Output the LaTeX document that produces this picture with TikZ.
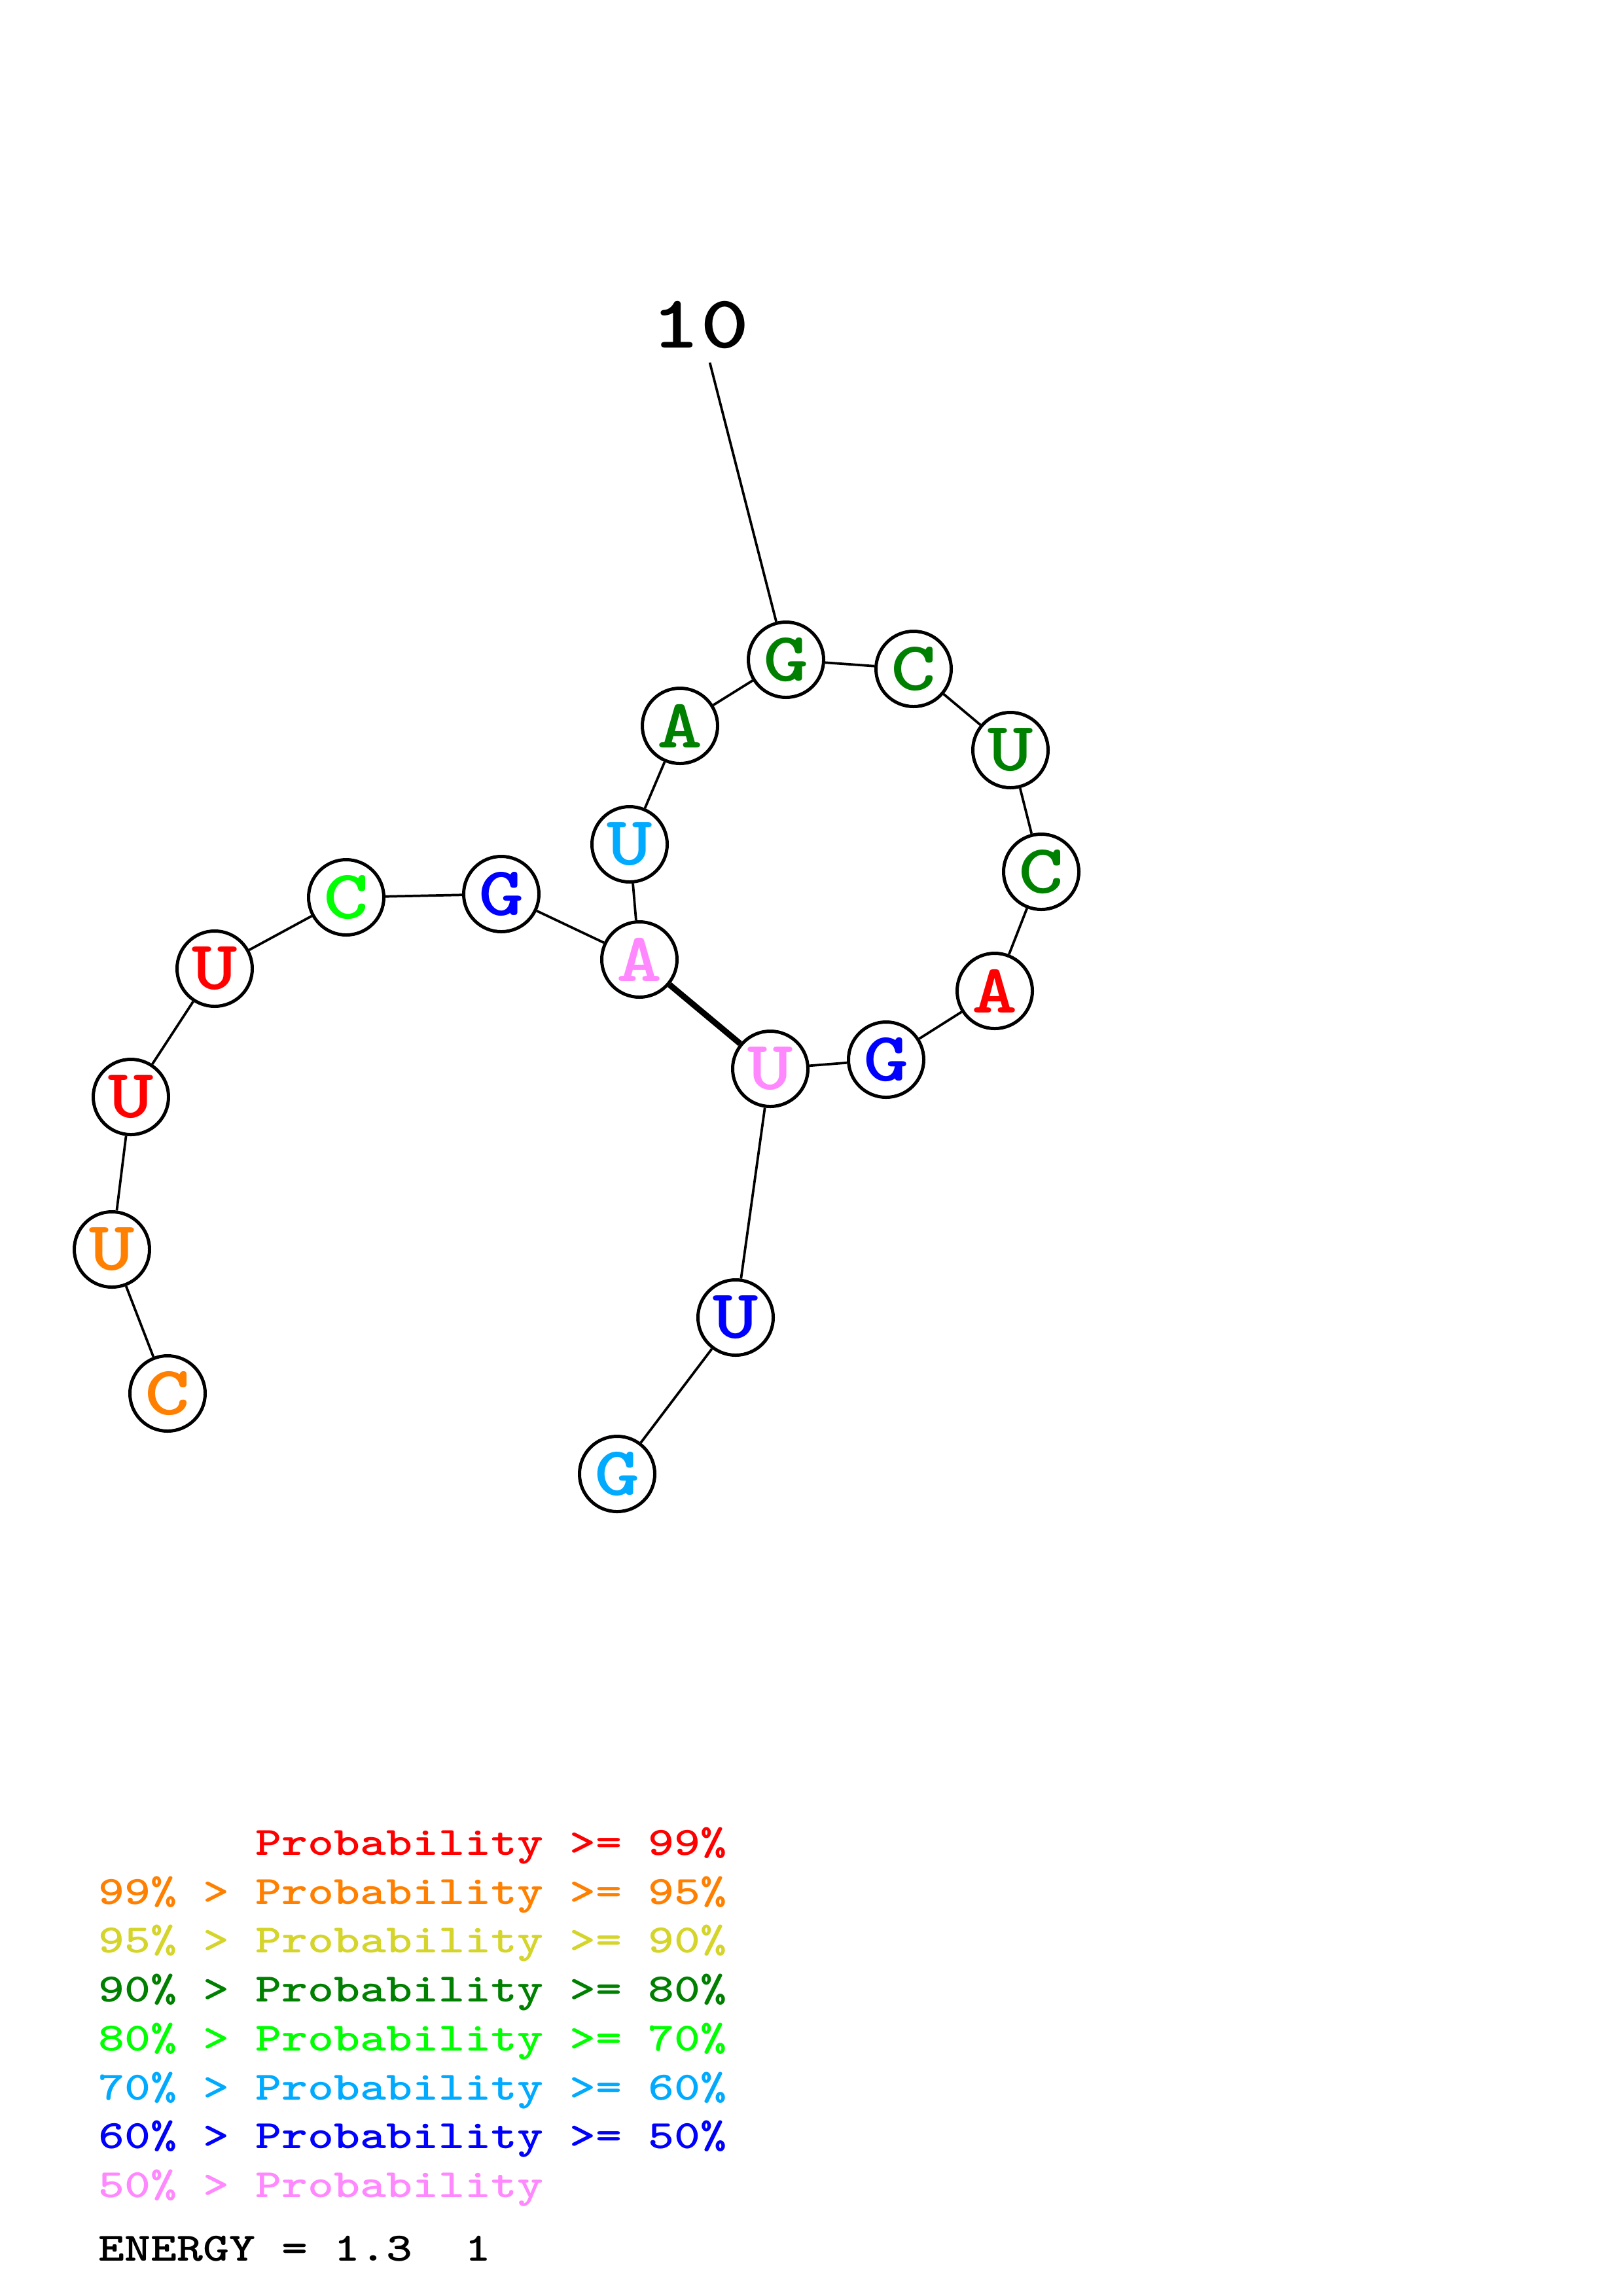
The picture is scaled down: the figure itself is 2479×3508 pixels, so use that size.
\documentclass[tikz,border=0pt]{standalone}
\usepackage{graphicx}
\usetikzlibrary{shapes}
\definecolor{c99}{RGB}{255,0,0}
\definecolor{c95}{RGB}{255,128,0}
\definecolor{c90}{RGB}{212,212,42}
\definecolor{c80}{RGB}{0,128,0}
\definecolor{c70}{RGB}{0,255,0}
\definecolor{c60}{RGB}{0,170,255}
\definecolor{c50}{RGB}{0,0,255}
\definecolor{clow}{RGB}{255,136,255}
\newcommand{\wide}[1]{\scalebox{1.24}[1]{#1}}
\tikzset{
  nuc/.style={circle, draw=black, line width=1.2pt, fill=white, inner sep=0pt,
    minimum size=0.974cm, font=\fontsize{25.6}{30}\selectfont\ttfamily\bfseries},
  bb/.style={line width=0.9pt},
  pair/.style={line width=2.2pt},
  legend/.style={anchor=base west, inner sep=0pt,
    font=\fontsize{14.8}{18}\selectfont\ttfamily\bfseries},
}

\begin{document}
\begin{tikzpicture}[x=0.008467cm, y=-0.008467cm]
		\useasboundingbox (0,0) rectangle (2479,3508);

		% Define nodes
		\node[nuc, text=c95]  (C1)  at (256,2129) {\wide{C}};
		\node[nuc, text=c95]  (U2)  at (171,1909) {\wide{U}};
		\node[nuc, text=c99]  (U3)  at (200,1676) {\wide{U}};
		\node[nuc, text=c99]  (U4)  at (328,1480) {\wide{U}};
		\node[nuc, text=c70]  (C5)  at (529,1371) {\wide{C}};
		\node[nuc, text=c50]  (G6)  at (766,1366) {\wide{G}};
		\node[nuc, text=clow] (A7)  at (977,1466) {\wide{A}};
		\node[nuc, text=c60]  (U8)  at (962,1290) {\wide{U}};
		\node[nuc, text=c80]  (A9)  at (1039,1109) {\wide{A}};
		\node[nuc, text=c80]  (G10) at (1201,1008) {\wide{G}};
		\node[nuc, text=c80]  (C11) at (1396,1022) {\wide{C}};
		\node[nuc, text=c80]  (U12) at (1544,1146) {\wide{U}};
		\node[nuc, text=c80]  (C13) at (1591,1332) {\wide{C}};
		\node[nuc, text=c99]  (A14) at (1520,1514) {\wide{A}};
		\node[nuc, text=c50]  (G15) at (1354,1619) {\wide{G}};
		\node[nuc, text=clow] (U16) at (1177,1633) {\wide{U}};
		\node[nuc, text=c50]  (U17) at (1124,2013) {\wide{U}};
		\node[nuc, text=c60]  (G18) at (943,2252) {\wide{G}};

		\node[inner xsep=2pt, inner ysep=4.8pt, font=\fontsize{27.6}{32}\selectfont\ttfamily\bfseries]
		  (num10) at (1070,497) {\wide{10}};

		% Connect the nodes
		\draw[bb] (C1) -- (U2) -- (U3) -- (U4) -- (C5) -- (G6) -- (A7) -- (U8) -- (A9) -- (G10);
		\draw[bb] (G10) -- (C11) -- (U12) -- (C13) -- (A14) -- (G15) -- (U16) -- (U17) -- (G18);
		\draw[pair] (A7) -- (U16);
		\draw[bb] (G10) -- (num10);

		% Legend
		\node[legend, text=c99]  (l99)  at (150,2834) {\wide{\phantom{99\% > }Probability >= 99\%}};
		\node[legend, text=c95]  (l95)  at (150,2909) {\wide{99\% > Probability >= 95\%}};
		\node[legend, text=c90]  (l90)  at (150,2983) {\wide{95\% > Probability >= 90\%}};
		\node[legend, text=c80]  (l80)  at (150,3058) {\wide{90\% > Probability >= 80\%}};
		\node[legend, text=c70]  (l70)  at (150,3133) {\wide{80\% > Probability >= 70\%}};
		\node[legend, text=c60]  (l60)  at (150,3208) {\wide{70\% > Probability >= 60\%}};
		\node[legend, text=c50]  (l50)  at (150,3282) {\wide{60\% > Probability >= 50\%}};
		\node[legend, text=clow] (llow) at (150,3357) {\wide{50\% > Probability}};
		\node[legend, text=black] (energy) at (150,3454) {\wide{ENERGY = 1.3~~1}};

	\end{tikzpicture}
\end{document}
